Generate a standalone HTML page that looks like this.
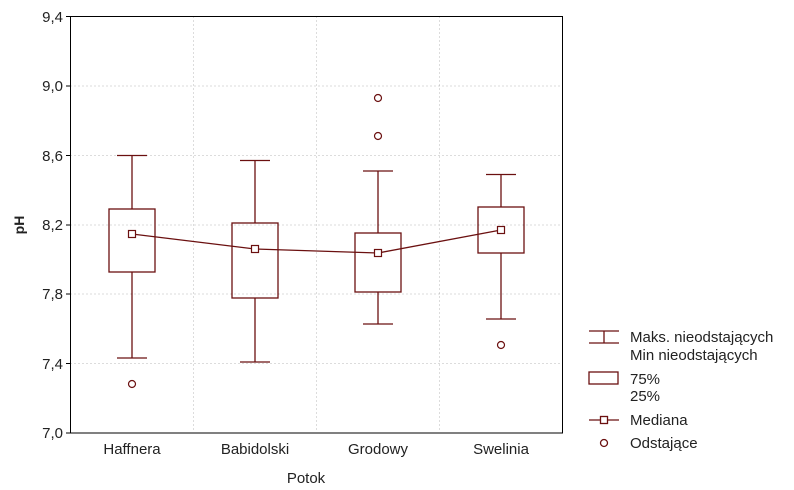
<!DOCTYPE html>
<html><head><meta charset="utf-8"><style>body{margin:0;background:#fff}svg{display:block}</style></head><body>
<svg width="794" height="490" xmlns="http://www.w3.org/2000/svg" font-family="Liberation Sans, sans-serif">
<g stroke="#b8b8b8" stroke-dasharray="1,3" stroke-width="1">
<line x1="70.5" y1="86" x2="562.5" y2="86"/><line x1="70.5" y1="155.5" x2="562.5" y2="155.5"/>
<line x1="70.5" y1="225" x2="562.5" y2="225"/><line x1="70.5" y1="294" x2="562.5" y2="294"/>
<line x1="70.5" y1="363.5" x2="562.5" y2="363.5"/>
<line x1="193.5" y1="16.5" x2="193.5" y2="433"/><line x1="316.5" y1="16.5" x2="316.5" y2="433"/><line x1="439.5" y1="16.5" x2="439.5" y2="433"/>
</g>
<rect x="70.5" y="16.5" width="492" height="416.5" fill="none" stroke="#000" stroke-width="1"/>
<g stroke="#000"><line x1="66" y1="16.5" x2="70.5" y2="16.5"/><line x1="66" y1="86" x2="70.5" y2="86"/><line x1="66" y1="155.5" x2="70.5" y2="155.5"/><line x1="66" y1="225" x2="70.5" y2="225"/><line x1="66" y1="294" x2="70.5" y2="294"/><line x1="66" y1="363.5" x2="70.5" y2="363.5"/><line x1="66" y1="433" x2="70.5" y2="433"/></g>
<g font-size="15" fill="#222" text-anchor="end">
<text x="63" y="22">9,4</text><text x="63" y="91">9,0</text><text x="63" y="161">8,6</text><text x="63" y="230">8,2</text><text x="63" y="299">7,8</text><text x="63" y="369">7,4</text><text x="63" y="438">7,0</text>
</g>
<text x="24" y="225" font-size="14" font-weight="bold" fill="#222" text-anchor="middle" transform="rotate(-90 24 225)">pH</text>
<g font-size="15" fill="#222" text-anchor="middle">
<text x="132" y="454">Haffnera</text><text x="255" y="454">Babidolski</text><text x="378" y="454">Grodowy</text><text x="501" y="454">Swelinia</text>
<text x="306" y="483">Potok</text>
</g>
<g stroke="#6b1010" fill="none" stroke-width="1.3">
<polyline points="132,234 255,249 378,253 501,230"/>
<line x1="132" y1="155.5" x2="132" y2="209"/><line x1="117" y1="155.5" x2="147" y2="155.5"/>
<line x1="132" y1="272" x2="132" y2="358"/><line x1="117" y1="358" x2="147" y2="358"/>
<rect x="109" y="209" width="46" height="63"/>
<line x1="255" y1="160.5" x2="255" y2="223"/><line x1="240" y1="160.5" x2="270" y2="160.5"/>
<line x1="255" y1="298" x2="255" y2="362"/><line x1="240" y1="362" x2="270" y2="362"/>
<rect x="232" y="223" width="46" height="75"/>
<line x1="378" y1="171" x2="378" y2="233"/><line x1="363" y1="171" x2="393" y2="171"/>
<line x1="378" y1="292" x2="378" y2="324"/><line x1="363" y1="324" x2="393" y2="324"/>
<rect x="355" y="233" width="46" height="59"/>
<line x1="501" y1="174.5" x2="501" y2="207"/><line x1="486" y1="174.5" x2="516" y2="174.5"/>
<line x1="501" y1="253" x2="501" y2="319"/><line x1="486" y1="319" x2="516" y2="319"/>
<rect x="478" y="207" width="46" height="46"/>
</g>
<g stroke="#6b1010" fill="#fff" stroke-width="1.2">
<rect x="128.5" y="230.5" width="7" height="7"/><rect x="251.5" y="245.5" width="7" height="7"/><rect x="374.5" y="249.5" width="7" height="7"/><rect x="497.5" y="226.5" width="7" height="7"/>
<circle cx="132" cy="384" r="3.5"/><circle cx="378" cy="98" r="3.5"/><circle cx="378" cy="136" r="3.5"/><circle cx="501" cy="345" r="3.5"/>
</g>
<g stroke="#6b1010" fill="none" stroke-width="1.3">
<line x1="589" y1="331" x2="619" y2="331"/><line x1="604" y1="331" x2="604" y2="343"/><line x1="589" y1="343" x2="619" y2="343"/>
<rect x="589" y="372" width="29" height="12"/>
<line x1="589" y1="420" x2="619" y2="420"/><rect x="600.5" y="416.5" width="7" height="7" fill="#fff"/>
<circle cx="604" cy="443" r="3.5"/>
</g>
<g font-size="15" fill="#222">
<text x="630" y="342">Maks. nieodstających</text><text x="630" y="360">Min nieodstających</text>
<text x="630" y="384">75%</text><text x="630" y="401">25%</text>
<text x="630" y="425">Mediana</text><text x="630" y="448">Odstające</text>
</g>
</svg>
</body></html>
